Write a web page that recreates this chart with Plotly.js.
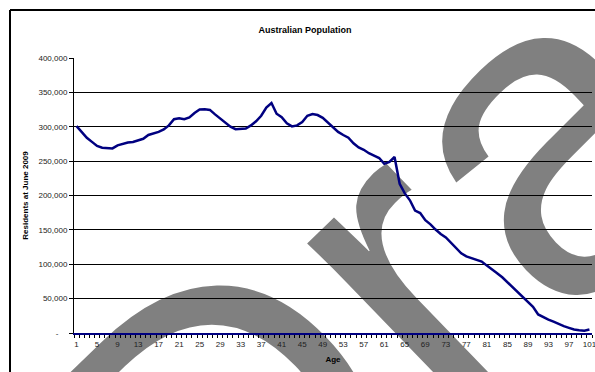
<!DOCTYPE html>
<html>
<head>
<meta charset="utf-8">
<script src="https://cdn.plot.ly/plotly-3.0.1.min.js"></script>
<style>
  html, body { margin: 0; padding: 0; background: #ffffff; }
  #chart { width: 595px; height: 372px; }
</style>
</head>
<body>
<div id="chart"></div>
<script>
// ---- Data ----
const ages = [];
for (let a = 1; a <= 101; a++) ages.push(a);

const residents = [
  301000, 292000, 284000, 278000, 272000, 269500, 268500, 268500, 273000, 275500,
  277000, 277800, 280000, 282500, 288000, 290000, 292500, 296000, 302000, 311000,
  312500, 311000, 313500, 320000, 325000, 325500, 324500, 318000, 312000, 305000,
  300000, 296500, 296500, 297500, 302000, 308000, 316000, 328000, 334500, 319000,
  314000, 305000, 300500, 302000, 307000, 316000, 318500, 317000, 313000, 306000,
  299000, 292500, 288000, 284000, 276000, 270000, 266500, 261500, 258000, 254500,
  246000, 249000, 256000, 217000, 203000, 193000, 178000, 174500, 164000, 158000,
  150500, 144000, 139000, 131000, 123000, 116000, 111500, 109000, 107500, 104000,
  98000, 93000, 87000, 81000, 74000, 66000, 59000, 53000, 46000, 38000,
  27000, 23000, 19500, 16500, 13000, 10000, 7500, 5000, 4000, 3200,
  5000
];

const xTickVals = [1, 5, 9, 13, 17, 21, 25, 29, 33, 37, 41, 45, 49, 53, 57, 61, 65, 69, 73, 77, 81, 85, 89, 93, 97, 101];
const yTickVals = [0, 50000, 100000, 150000, 200000, 250000, 300000, 350000, 400000];
const yTickText = ['-\u00a0\u00a0\u00a0\u00a0', '50,000', '100,000', '150,000', '200,000', '250,000', '300,000', '350,000', '400,000'];

const titleText = 'Australian Population';
const xTitle = 'Age';
const yTitle = 'Residents at June 2009';
const watermarkText = 'Draft';

// ---- Layout geometry ----
const W = 595, H = 372;
const M = { l: 74, r: 3, t: 58, b: 39 };
const PW = W - M.l - M.r, PH = H - M.t - M.b;
const px2x = px => (px - M.l) / PW;
const py2y = py => (H - M.b - py) / PH;

// watermark as an SVG image drawn below the grid
const wmX = 217, wmY = 661, wmAngle = -44, wmSize = 450;
const wmSvg =
  '<svg xmlns="http://www.w3.org/2000/svg" width="' + W + '" height="' + H + '" viewBox="0 0 ' + W + ' ' + H + '">' +
  '<text x="' + wmX + '" y="' + wmY + '" transform="rotate(' + wmAngle + ' ' + wmX + ' ' + wmY + ')" ' +
  'font-family="Liberation Sans, Arial, sans-serif" font-size="' + wmSize + '" fill="#808080">' +
  watermarkText + '</text></svg>';
const wmSrc = 'data:image/svg+xml;charset=utf-8,' + encodeURIComponent(wmSvg);

const font = 'Liberation Sans, Arial, sans-serif';

const trace = {
  type: 'scatter',
  mode: 'lines',
  x: ages,
  y: residents,
  line: { color: '#000080', width: 2.5 },
  hoverinfo: 'skip'
};

const layout = {
  width: W,
  height: H,
  margin: M,
  paper_bgcolor: '#ffffff',
  plot_bgcolor: 'rgba(0,0,0,0)',
  showlegend: false,
  font: { family: font, size: 8, color: '#000000' },
  title: {
    text: '<b>' + titleText + '</b>',
    font: { family: font, size: 9, color: '#000000' },
    x: px2x(305), xref: 'paper', xanchor: 'center',
    y: 1 - 30 / H, yref: 'container', yanchor: 'middle'
  },
  xaxis: {
    range: [0.5, 101.5],
    tickmode: 'array',
    tickvals: xTickVals,
    ticktext: xTickVals.map(String),
    ticks: '',
    ticklabelstandoff: 3,
    ticklabeloverflow: 'allow',
    tickfont: { family: font, size: 8, color: '#222222' },
    showgrid: false,
    zeroline: false,
    showline: true,
    linecolor: '#000080',
    linewidth: 1.5,
    minor: { tick0: 0.5, dtick: 1, ticks: 'outside', ticklen: 3, tickcolor: '#000000', tickwidth: 1, showgrid: false },
    title: { text: '<b>' + xTitle + '</b>', font: { family: font, size: 8, color: '#000000' }, standoff: 8 },
    fixedrange: true
  },
  yaxis: {
    range: [0, 400000],
    tickmode: 'array',
    tickvals: yTickVals,
    ticktext: yTickText,
    ticks: 'outside',
    ticklen: 4,
    tickcolor: '#000000',
    tickfont: { family: font, size: 8, color: '#222222' },
    showgrid: true,
    gridcolor: '#000000',
    gridwidth: 1,
    zeroline: false,
    showline: true,
    linecolor: '#000000',
    linewidth: 1,
    title: { text: '<b>' + yTitle + '</b>', font: { family: font, size: 8, color: '#000000' }, standoff: 8 },
    fixedrange: true
  },
  images: [{
    source: wmSrc,
    xref: 'paper', yref: 'paper',
    x: px2x(0), y: py2y(0),
    sizex: W / PW, sizey: H / PH,
    xanchor: 'left', yanchor: 'top',
    sizing: 'stretch',
    layer: 'below'
  }],
  shapes: [
    { type: 'line', xref: 'paper', yref: 'paper', layer: 'above',
      x0: px2x(10), x1: px2x(W + 5), y0: py2y(10), y1: py2y(10),
      line: { color: '#000000', width: 2 } },
    { type: 'line', xref: 'paper', yref: 'paper', layer: 'above',
      x0: px2x(10), x1: px2x(10), y0: py2y(10), y1: py2y(H + 5),
      line: { color: '#000000', width: 2 } }
  ]
};

Plotly.newPlot('chart', [trace], layout, { displayModeBar: false, staticPlot: true });
</script>
</body>
</html>
